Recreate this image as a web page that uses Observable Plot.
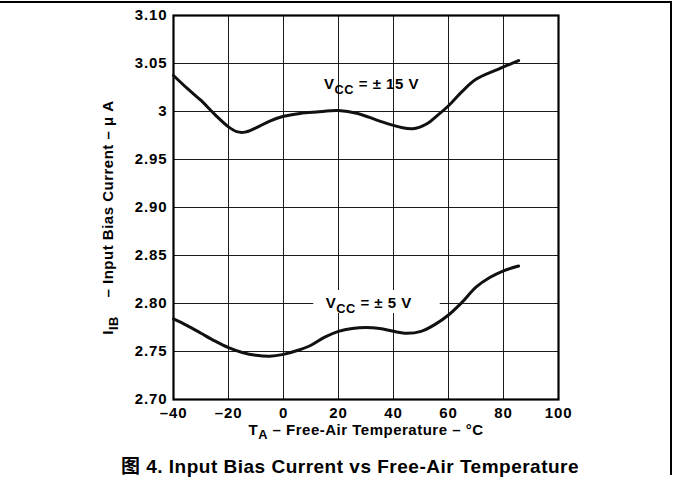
<!DOCTYPE html>
<html>
<head>
<meta charset="utf-8">
<script src="https://cdn.jsdelivr.net/npm/d3@7"></script>
<script src="https://cdn.jsdelivr.net/npm/@observablehq/plot@0.6"></script>
<style>
  html, body { margin: 0; padding: 0; background: #fff; }
  #page { position: relative; width: 673px; height: 482px; overflow: hidden; }
  #border { position: absolute; left: -4px; top: 1px; width: 676px; height: 474px;
            border-top: 2px solid #000; border-right: 2px solid #000; box-sizing: border-box; pointer-events: none; }
  #chart { position: absolute; left: 0; top: 0; }
  #caption { position: absolute; top: 451px; left: 0; width: 700px; text-align: center; letter-spacing: 0.5px;
             font: bold 19px "Liberation Sans", Arial, "Noto Sans CJK SC", sans-serif; color: #000; white-space: nowrap; }
  svg text { white-space: pre; letter-spacing: 0.5px; }
  svg g[aria-label="y-axis tick label"] text, svg g[aria-label="x-axis tick label"] text { letter-spacing: 0.9px; }
</style>
</head>
<body>
<div id="page">
  <div id="chart"></div>
  <div id="border"></div>
  <div id="caption">图 4. Input Bias Current vs Free-Air Temperature</div>
</div>
<script>
// ---- data ----
const xTicks = [-40, -20, 0, 20, 40, 60, 80, 100];
const xTickLabels = ["–40", "–20", "0", "20", "40", "60", "80", "100"];
const yTicks = [2.70, 2.75, 2.80, 2.85, 2.90, 2.95, 3.00, 3.05, 3.10];
const yTickLabels = ["2.70", "2.75", "2.80", "2.85", "2.90", "2.95", "3", "3.05", "3.10"];
const xGrid = [-20, 0, 20, 40, 60, 80];
const yGrid = [2.75, 2.80, 2.85, 2.90, 2.95, 3.00, 3.05];

// VCC = ±15 V
const temp15 = [-40, -35, -30, -25, -20, -17, -14, -10, -5, 0, 6, 12, 20, 27, 35, 42, 47, 52, 56, 60, 65, 70, 78, 85.5];
const ib15   = [3.0375, 3.024, 3.0115, 2.997, 2.984, 2.979, 2.9785, 2.983, 2.990, 2.995, 2.998, 2.9995, 3.001, 2.998, 2.990, 2.984, 2.982, 2.987, 2.996, 3.006, 3.021, 3.0335, 3.044, 3.053];

// VCC = ±5 V
const temp5 = [-40, -35, -30, -25, -20, -15, -10, -5, 0, 5, 10, 15, 20, 25, 30, 35, 40, 45, 50, 55, 60, 65, 70, 75, 80, 85.5];
const ib5   = [2.784, 2.777, 2.769, 2.761, 2.754, 2.749, 2.746, 2.745, 2.747, 2.751, 2.7565, 2.765, 2.771, 2.774, 2.775, 2.774, 2.771, 2.769, 2.771, 2.778, 2.788, 2.8015, 2.817, 2.827, 2.834, 2.839];

// curve annotations
const seriesLabels = [
  {x: 32, y: 3.028, text: "V_{CC} = ± 15 V"},
  {x: 31, y: 2.800, text: "V_{CC} = ± 5 V"}
];
const labelMask = [{x1: 11, x2: 57, y1: 2.7896, y2: 2.8135}];

const xTitle = "T_{A} – Free-Air Temperature – °C";
const yTitle = "I_{IB}    – Input Bias Current – μ A";

// ---- build ----
const rows15 = temp15.map((t, i) => ({t, v: ib15[i]}));
const rows5 = temp5.map((t, i) => ({t, v: ib5[i]}));
const xFmt = new Map(xTicks.map((d, i) => [d, xTickLabels[i]]));
const yFmt = new Map(yTicks.map((d, i) => [d, yTickLabels[i]]));

const plot = Plot.plot({
  width: 673,
  height: 445,
  marginLeft: 173,
  marginRight: 115,
  marginTop: 15,
  marginBottom: 46,
  style: {fontFamily: "'Liberation Sans', Arial, sans-serif", fontWeight: "bold", fontSize: "15px", color: "#000", background: "transparent", overflow: "visible"},
  x: {domain: [-40, 100], ticks: xTicks, tickFormat: d => xFmt.get(d), tickSize: 0, tickPadding: 8, label: null},
  y: {domain: [2.70, 3.10], ticks: yTicks, tickFormat: d => yFmt.get(d), tickSize: 0, tickPadding: 6, label: null},
  marks: [
    Plot.ruleX(xGrid, {stroke: "#1a1a1a", strokeWidth: 1}),
    Plot.ruleY(yGrid, {stroke: "#1a1a1a", strokeWidth: 1}),
    Plot.rect(labelMask, {x1: "x1", x2: "x2", y1: "y1", y2: "y2", fill: "white"}),
    Plot.frame({stroke: "#000", strokeWidth: 2.2}),
    Plot.line(rows15, {x: "t", y: "v", curve: "catmull-rom", stroke: "#111", strokeWidth: 3}),
    Plot.line(rows5, {x: "t", y: "v", curve: "catmull-rom", stroke: "#111", strokeWidth: 3}),
    Plot.text(seriesLabels, {x: "x", y: "y", text: "text", fontSize: 15, fontWeight: "bold", fill: "#000"}),
    Plot.text([xTitle], {frameAnchor: "bottom", dy: 35, fontSize: 15, fontWeight: "bold", fill: "#000"}),
    Plot.text([yTitle], {frameAnchor: "left", textAnchor: "middle", dx: -65, dy: 10, rotate: -90, fontSize: 15, fontWeight: "bold", fill: "#000"})
  ]
});
document.getElementById("chart").appendChild(plot);

// turn "_{..}" markers into real subscript tspans
d3.select(plot).selectAll("text").each(function() {
  const el = this;
  const txt = el.textContent;
  if (!txt.includes("_{")) return;
  const parts = txt.split(/(_\{[^}]*\})/);
  while (el.firstChild) el.removeChild(el.firstChild);
  const fs = parseFloat(getComputedStyle(el).fontSize) || 15;
  let pendingDy = null;
  parts.forEach(p => {
    if (!p) return;
    const ts = document.createElementNS("http://www.w3.org/2000/svg", "tspan");
    if (p.startsWith("_{")) {
      ts.textContent = p.slice(2, -1);
      ts.setAttribute("font-size", (fs * 0.85).toFixed(1));
      ts.setAttribute("dy", (fs * 0.3).toFixed(1));
      pendingDy = (-fs * 0.3).toFixed(1);
    } else {
      ts.textContent = p;
      if (pendingDy !== null) { ts.setAttribute("dy", pendingDy); pendingDy = null; }
    }
    el.appendChild(ts);
  });
});
</script>
</body>
</html>
